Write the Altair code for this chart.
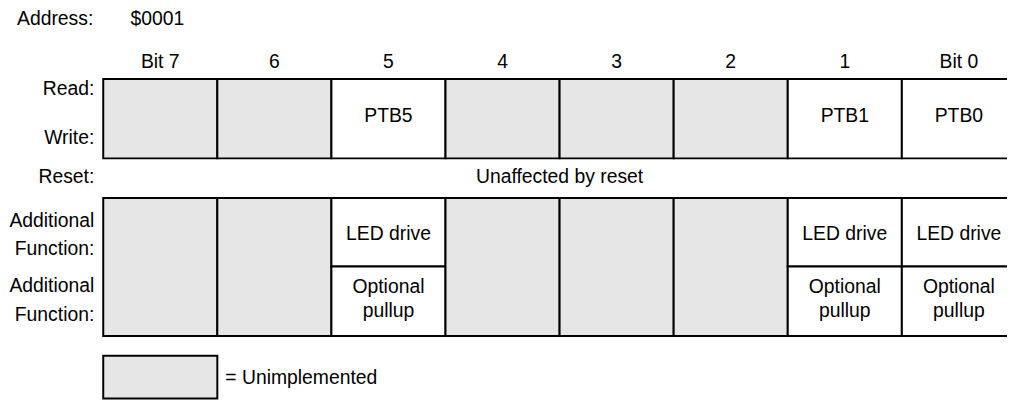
import altair as alt
import pandas as pd

# ---- content ----
bits = ["Bit 7", "6", "5", "4", "3", "2", "1", "Bit 0"]
rw_labels = ["", "", "PTB5", "", "", "", "PTB1", "PTB0"]
implemented = [False, False, True, False, False, False, True, True]
af1_labels = ["", "", "LED drive", "", "", "", "LED drive", "LED drive"]
af2_line1 = ["", "", "Optional", "", "", "", "Optional", "Optional"]
af2_line2 = ["", "", "pullup", "", "", "", "pullup", "pullup"]
row_labels = ["Read:", "Write:", "Reset:", "Additional", "Function:", "Additional", "Function:"]
reset_text = "Unaffected by reset"
address_label = "Address:"
address_value = "$0001"
legend_text = "= Unimplemented"

# ---- layout (page pixels) ----
PAGE = 8
W, H = 1007, 394
COL_LEFT, COL_W = 104, 115
RW_TOP, RW_BOT = 78, 158
AF_TOP, AF_MID, AF_BOT = 198, 267, 337
LEG_TOP, LEG_BOT = 357, 400
HEADER_Y = 66.5
ADDR_Y = 23.3
RW_TEXT_Y = 121.5
RESET_Y = 183
AF1_Y = 240
AF2_Y1, AF2_Y2 = 293.3, 318.3
ROW_LABEL_Y = [94, 144, 183, 226.7, 255, 293, 321.7]
LABEL_RIGHT = 95
ADDR_RIGHT = 94
ADDR_VALUE_LEFT = 131.5
LEGEND_TEXT_LEFT = 227
GRAY = "#e6e6e6"
FONT = "Liberation Sans"
FS = 19.5


def col(px):
    return (px - COL_LEFT) / COL_W


# ---- rectangles ----
rects = []
for i, imp in enumerate(implemented):
    rects.append(dict(x=i, x2=i + 1, y=RW_TOP, y2=RW_BOT, fill="white" if imp else GRAY))
    if imp:
        rects.append(dict(x=i, x2=i + 1, y=AF_TOP, y2=AF_MID, fill="white"))
        rects.append(dict(x=i, x2=i + 1, y=AF_MID, y2=AF_BOT, fill="white"))
    else:
        rects.append(dict(x=i, x2=i + 1, y=AF_TOP, y2=AF_BOT, fill=GRAY))
rects.append(dict(x=0, x2=1, y=LEG_TOP, y2=LEG_BOT, fill=GRAY))
rect_df = pd.DataFrame(rects)

# ---- texts ----
texts = []
for i in range(8):
    texts.append(dict(x=i + 0.5, y=HEADER_Y, text=bits[i], align="center"))
    texts.append(dict(x=i + 0.5, y=RW_TEXT_Y, text=rw_labels[i], align="center"))
    texts.append(dict(x=i + 0.5, y=AF1_Y, text=af1_labels[i], align="center"))
    texts.append(dict(x=i + 0.5, y=AF2_Y1, text=af2_line1[i], align="center"))
    texts.append(dict(x=i + 0.5, y=AF2_Y2, text=af2_line2[i], align="center"))
texts.append(dict(x=4, y=RESET_Y, text=reset_text, align="center"))
for lab, yy in zip(row_labels, ROW_LABEL_Y):
    texts.append(dict(x=col(LABEL_RIGHT), y=yy, text=lab, align="right"))
texts.append(dict(x=col(ADDR_RIGHT), y=ADDR_Y, text=address_label, align="right"))
texts.append(dict(x=col(ADDR_VALUE_LEFT), y=ADDR_Y, text=address_value, align="left"))
texts.append(dict(x=col(LEGEND_TEXT_LEFT), y=385, text=legend_text, align="left"))
text_df = pd.DataFrame([t for t in texts if t["text"]])

xs = alt.Scale(domain=[col(PAGE), col(PAGE + W)], nice=False, zero=False)
ys = alt.Scale(domain=[PAGE, PAGE + H], nice=False, zero=False, reverse=True)

rect_layer = alt.Chart(rect_df).mark_rect(stroke="black", strokeWidth=2).encode(
    x=alt.X("x:Q", scale=xs, axis=None),
    x2="x2:Q",
    y=alt.Y("y:Q", scale=ys, axis=None),
    y2="y2:Q",
    fill=alt.Fill("fill:N", scale=None),
)

layers = [rect_layer]
for al in ["center", "right", "left"]:
    layers.append(
        alt.Chart(text_df).transform_filter(alt.datum.align == al).mark_text(
            align=al, baseline="alphabetic", font=FONT, fontSize=FS, color="black"
        ).encode(
            x=alt.X("x:Q", scale=xs, axis=None),
            y=alt.Y("y:Q", scale=ys, axis=None),
            text="text:N",
        )
    )

chart = alt.layer(*layers).properties(
    width=W, height=H, padding=0, autosize=alt.AutoSizeParams(type="none"), background="white"
).configure_view(stroke=None)

chart.save("out.html", embed_options={"renderer": "svg", "actions": False})
